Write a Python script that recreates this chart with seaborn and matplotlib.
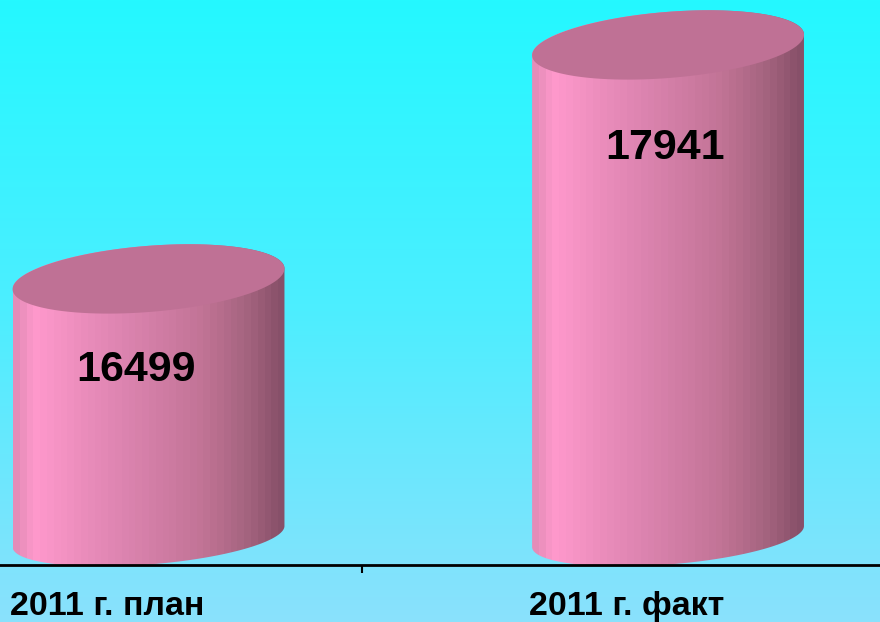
import numpy as np
import pandas as pd
import matplotlib
matplotlib.use("Agg")
import matplotlib.pyplot as plt
import seaborn as sns
from matplotlib.path import Path
from matplotlib.patches import PathPatch
from matplotlib.colors import LinearSegmentedColormap

# data
categories = ["2011 г. план", "2011 г. факт"]
values = [16499, 17941]

# value label nudges (pixels) relative to top centre of each cylinder
label_dx = [-13, -3]
label_dy = [-91, -103]

sns.set_theme(style="white")
plt.rcParams["font.family"] = ["Liberation Sans", "DejaVu Sans"]

fig = plt.figure(figsize=(8.8, 6.22), dpi=100)

# background gradient over the whole figure
bg = fig.add_axes([0, 0, 1, 1], zorder=0)
bg_cmap = LinearSegmentedColormap.from_list("bg", ["#8AE1FC", "#4DEEFF", "#24F8FF"])
bg.imshow(np.linspace(1, 0, 256).reshape(-1, 1), aspect="auto", cmap=bg_cmap,
          extent=[0, 1, 0, 1])
bg.axis("off")

ax = fig.add_axes([0, 57 / 622, 1, 565 / 622], zorder=1)
ax.set_facecolor("none")

df = pd.DataFrame({"period": categories, "value": values})
sns.barplot(data=df, x="period", y="value", ax=ax, width=0.525, color="#D47FA8")

ax.set_xlim(-0.2859, 1.408)
ax.set_ylim(14736, 18218)
base = 14912  # centre of cylinder bottoms

body_cmap = LinearSegmentedColormap.from_list("body", [
    (0.00, "#E48CB8"), (0.07, "#FF99CC"), (0.30, "#E68AB8"),
    (0.50, "#D47FA8"), (0.70, "#C27496"), (0.87, "#A5647F"), (1.00, "#875069"),
])

fig.canvas.draw()
to_px = ax.transData
to_data = ax.transData.inverted()
theta = np.deg2rad(4.6)


def ellipse_pts(cx, cy, a, b, t):
    x = cx + a * np.cos(t) * np.cos(theta) - b * np.sin(t) * np.sin(theta)
    y = cy + a * np.cos(t) * np.sin(theta) + b * np.sin(t) * np.cos(theta)
    return np.column_stack([x, y])


bars = list(ax.patches)
for i, p in enumerate(bars):
    p.set_visible(False)
    x0, w, val = p.get_x(), p.get_width(), p.get_height()
    (lx, ty), (rx, by) = to_px.transform([(x0, val), (x0 + w, base)])
    cx = (lx + rx) / 2
    a = (rx - lx) / 2

    # body silhouette: lower half of bottom ellipse + upper half of top ellipse
    low = ellipse_pts(cx, by, a, 28, np.linspace(np.pi, 2 * np.pi, 100))
    up = ellipse_pts(cx, ty, a, 33, np.linspace(0, np.pi, 100))
    body = to_data.transform(np.vstack([low, up]))
    clip = PathPatch(Path(np.vstack([body, body[:1]]), closed=True),
                     transform=ax.transData, facecolor="none", edgecolor="none")
    ax.add_patch(clip)
    xs = body[:, 0]
    img = ax.imshow(np.linspace(0, 1, 40).reshape(1, -1), aspect="auto",
                    cmap=body_cmap, interpolation="nearest",
                    extent=[xs.min(), xs.max(), ax.get_ylim()[0], ax.get_ylim()[1]],
                    zorder=2)
    img.set_clip_path(clip)

    # top face
    top = to_data.transform(ellipse_pts(cx, ty, a, 33, np.linspace(0, 2 * np.pi, 200)))
    ax.add_patch(PathPatch(Path(top, closed=True), transform=ax.transData,
                           facecolor="#BF7195", edgecolor="none", zorder=3))

    ax.annotate(f"{values[i]}", xy=(x0 + w / 2, val), xytext=(label_dx[i], label_dy[i]),
                textcoords="offset pixels", ha="center", va="center",
                fontsize=31, fontweight="bold", color="black", zorder=4)

ax.set_xlim(-0.2859, 1.408)
ax.set_ylim(14736, 18218)

# axes styling
for side in ["top", "left", "right"]:
    ax.spines[side].set_visible(False)
ax.spines["bottom"].set_color("black")
ax.spines["bottom"].set_linewidth(2)
ax.set_yticks([])
ax.set_xlabel("")
ax.set_ylabel("")
ax.set_xticks([p.get_x() - 0.005 for p in bars])
ax.set_xticklabels(categories, ha="left", fontsize=24.5, fontweight="bold")
ax.set_xticks([0.411], minor=True)
ax.tick_params(axis="x", which="major", length=0, pad=19, colors="black")
ax.tick_params(axis="x", which="minor", bottom=True, length=6, width=1.5,
               direction="out", color="black")

fig.savefig("out.png", dpi=100)
